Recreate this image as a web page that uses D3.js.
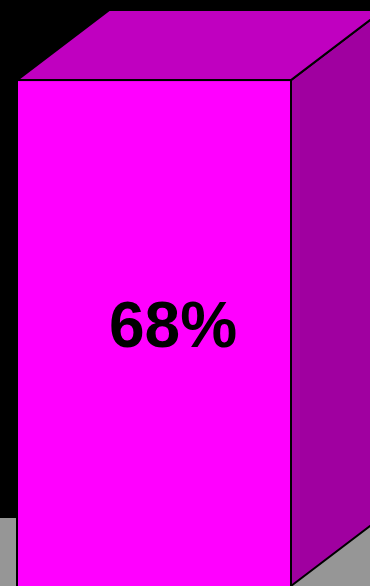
<!DOCTYPE html>
<html>
<head>
<meta charset="utf-8">
<script src="https://cdn.jsdelivr.net/npm/d3@7"></script>
<style>
  html, body { margin: 0; padding: 0; background: #000; overflow: hidden; }
  svg { display: block; }
</style>
</head>
<body>
<div id="chart"></div>
<script>
// datos del grafico
const categories = ["Serie 1"];
const values = [68];
const labels = ["68%"];

const width = 370;
const height = 586;
const depth = { dx: 92, dy: 70 }; // profundidad del efecto 3D

const svg = d3.select("#chart")
  .append("svg")
  .attr("width", width)
  .attr("height", height);

// escaladores
const x = d3.scaleBand().domain(categories).range([17, 291]).padding(0);
const y = d3.scaleLinear().domain([0, 100]).range([586, -158]);

// fondo
svg.append("rect")
  .attr("width", width)
  .attr("height", height)
  .attr("fill", "#000");

// suelo gris
svg.append("rect")
  .attr("x", 0)
  .attr("y", y(0) - depth.dy + 2)
  .attr("width", width)
  .attr("height", depth.dy)
  .attr("fill", "#969696");

const bars = svg.selectAll("g.bar")
  .data(categories.map((c, i) => ({ cat: c, value: values[i], label: labels[i] })))
  .enter()
  .append("g")
  .attr("class", "bar");

const line = (pts) => "M" + pts.map((p) => p.join(",")).join("L") + "Z";

// cara lateral
bars.append("path")
  .attr("d", (d) => {
    const x1 = x(d.cat) + x.bandwidth();
    return line([
      [x1, y(d.value)],
      [x1 + depth.dx, y(d.value) - depth.dy],
      [x1 + depth.dx, y(0) - depth.dy],
      [x1, y(0)]
    ]);
  })
  .attr("fill", "#a000a0")
  .attr("stroke", "#000")
  .attr("stroke-width", 2);

// cara superior
bars.append("path")
  .attr("d", (d) => {
    const x0 = x(d.cat);
    const x1 = x0 + x.bandwidth();
    return line([
      [x0, y(d.value)],
      [x0 + depth.dx, y(d.value) - depth.dy],
      [x1 + depth.dx, y(d.value) - depth.dy],
      [x1, y(d.value)]
    ]);
  })
  .attr("fill", "#c000c0")
  .attr("stroke", "#000")
  .attr("stroke-width", 2);

// cara frontal
bars.append("rect")
  .attr("x", (d) => x(d.cat))
  .attr("y", (d) => y(d.value))
  .attr("width", x.bandwidth())
  .attr("height", (d) => y(0) - y(d.value) + 2)
  .attr("fill", "#ff00ff")
  .attr("stroke", "#000")
  .attr("stroke-width", 2);

// etiqueta
bars.append("text")
  .attr("x", (d) => x(d.cat) + x.bandwidth() / 2 + 19)
  .attr("y", 347)
  .attr("text-anchor", "middle")
  .attr("font-family", "Liberation Sans, Arial, sans-serif")
  .attr("font-weight", "bold")
  .attr("font-size", 64)
  .attr("fill", "#000")
  .text((d) => d.label);
</script>
</body>
</html>
